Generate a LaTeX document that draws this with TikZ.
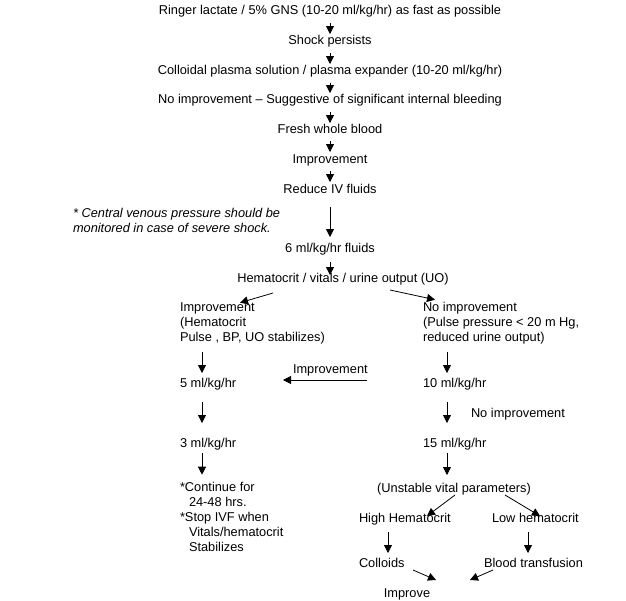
\documentclass[tikz,border=0pt]{standalone}
\usepackage{fontspec}
\setmainfont{Liberation Sans}
\usetikzlibrary{arrows.meta,calc}
\begin{document}
\begin{tikzpicture}[x=1pt,y=-1pt,
  every node/.style={font=\fontsize{12.8}{15}\selectfont, inner sep=0pt, outer sep=0pt},
  arr/.style={-{Triangle[length=8pt,width=8pt]}, line width=0.8pt},
  txt/.style={anchor=base},
  ltxt/.style={anchor=base west},
  blk/.style={anchor=north west, align=left}]
\useasboundingbox (0,0) rectangle (626,600);
% main chain
\node[txt] (t1) at (330,14) {Ringer lactate / 5\% GNS (10-20 ml/kg/hr) as fast as possible};
\node[txt] (t2) at (330,44) {Shock persists};
\node[txt] (t3) at (330,74) {Colloidal plasma solution / plasma expander (10-20 ml/kg/hr)};
\node[txt] (t4) at (330,103) {No improvement – Suggestive of significant internal bleeding};
\node[txt] (t5) at (330,133) {Fresh whole blood};
\node[txt] (t6) at (330,163) {Improvement};
\node[txt] (t7) at (330,193) {Reduce IV fluids};
\node[txt] (t8) at (330,252) {6 ml/kg/hr fluids};
\node[txt] (t9) at (343,282) {Hematocrit / vitals / urine output (UO)};
\node[blk, font=\fontsize{12.8}{15}\selectfont\itshape] (note) at (73,208.7) {* Central venous pressure should be\\monitored in case of severe shock.};
\draw[arr] ($(t1.base)+(0,9)$) -- ($(t2.base)+(0,-10)$);
\draw[arr] ($(t2.base)+(0,9)$) -- ($(t3.base)+(0,-10)$);
\draw[arr] ($(t3.base)+(0,9)$) -- ($(t4.base)+(0,-10)$);
\draw[arr] ($(t4.base)+(0,9)$) -- ($(t5.base)+(0,-10)$);
\draw[arr] ($(t5.base)+(0,8)$) -- ($(t6.base)+(0,-11)$);
\draw[arr] ($(t6.base)+(0,8)$) -- ($(t7.base)+(0,-11)$);
\draw[arr] ($(t7.base)+(0,14)$) -- ($(t8.base)+(0,-15)$);
\draw[arr] ($(t8.base)+(0,10)$) -- ($(t9.base)+(-13,-7)$);
% left column
\node[blk] (L1) at (180,302.7) {Improvement\\(Hematocrit\\Pulse , BP, UO stabilizes)};
\node[ltxt] (l5) at (180,387) {5 ml/kg/hr};
\node[ltxt] (l3) at (180,447) {3 ml/kg/hr};
\node[blk] (C) at (180,482.7) {*Continue for\\\hspace*{9pt}24-48 hrs.\\*Stop IVF when\\\hspace*{9pt}Vitals/hematocrit\\\hspace*{9pt}Stabilizes};
% right column
\node[blk] (R1) at (423,302.7) {No improvement\\(Pulse pressure < 20 m Hg,\\reduced urine output)};
\node[ltxt] (r10) at (423,387) {10 ml/kg/hr};
\node[ltxt] (r15) at (423,447) {15 ml/kg/hr};
\node[ltxt] (ni) at (471,417) {No improvement};
\node[ltxt] (imp2) at (293,373) {Improvement};
\node[txt] (u) at (454,492) {(Unstable vital parameters)};
\node[ltxt] (hh) at (359,522) {High Hematocrit};
\node[ltxt] (lh) at (492,522) {Low hematocrit};
\node[ltxt] (co) at (359,567) {Colloids};
\node[ltxt] (bt) at (484,567) {Blood transfusion};
\node[txt] (im) at (407,597) {Improve};
% branch arrows
\draw[arr] ($(t9.base)+(-70,11)$) -- ($(L1.north west)+(60,0)$);
\draw[arr] ($(t9.base)+(47,8)$) -- ($(R1.north west)+(12,-3)$);
\draw[arr] ($(L1.north west)+(22,49)$) -- ($(l5.base west)+(22,-14)$);
\draw[arr] ($(l5.base west)+(22,15)$) -- ($(l3.base west)+(22,-24)$);
\draw[arr] ($(l3.base west)+(22,6)$) -- ($(C.north west)+(22,-8)$);
\draw[arr] ($(R1.north west)+(24,49)$) -- ($(r10.base west)+(24,-14)$);
\draw[arr] ($(r10.base west)+(24,15)$) -- ($(r15.base west)+(24,-24)$);
\draw[arr] ($(r15.base west)+(24,6)$) -- ($(u.base)+(-7,-17)$);
\draw[arr] ($(r10.base west)+(-56,-7)$) -- ($(l5.base west)+(103,-7)$);
\draw[arr] ($(u.base)+(1,3)$) -- ($(hh.base west)+(68,-6)$);
\draw[arr] ($(u.base)+(51,3)$) -- ($(lh.base west)+(48,-6)$);
\draw[arr] ($(hh.base west)+(29,10)$) -- ($(co.base west)+(29,-14)$);
\draw[arr] ($(lh.base west)+(36,10)$) -- ($(bt.base west)+(44,-14)$);
\draw[arr] ($(co.base west)+(54,3)$) -- ($(im.base)+(29,-17)$);
\draw[arr] ($(bt.base west)+(9,3)$) -- ($(im.base)+(63,-17)$);
\end{tikzpicture}
\end{document}
